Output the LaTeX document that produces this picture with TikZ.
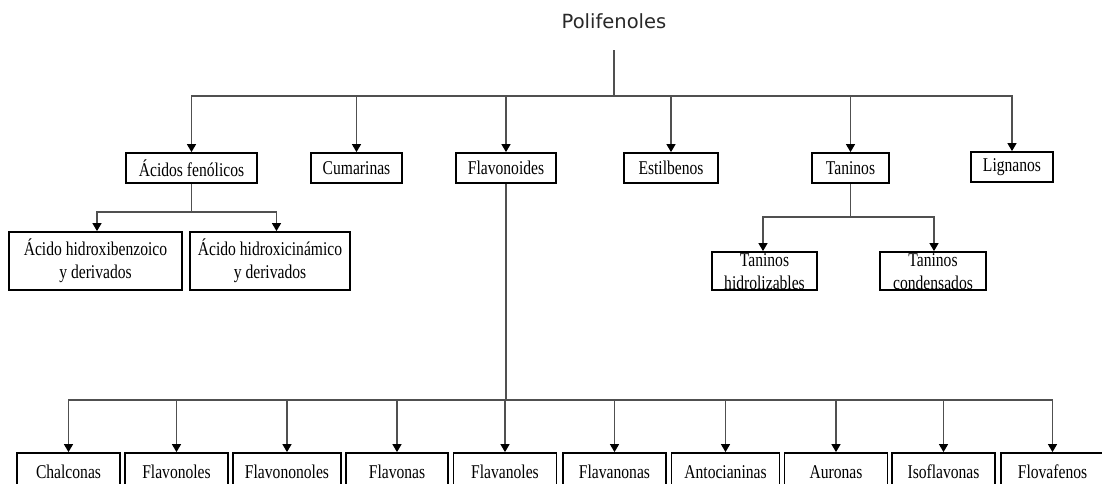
\documentclass[tikz,border=0pt]{standalone}
\usepackage{fontspec}
\setmainfont{Liberation Serif}[FakeStretch=0.8]
\newfontfamily\headfont{DejaVu Sans}
\usetikzlibrary{arrows.meta}
\definecolor{linkgray}{RGB}{80,80,80}
\definecolor{headgray}{RGB}{40,40,40}
\tikzset{
  box/.style={draw=black, line width=1.8pt, fill=white, inner sep=0pt,
    align=center, font=\fontsize{19.5}{23}\selectfont},
  row1/.style={box, minimum height=30pt},
  row2/.style={box, minimum height=58pt},
  row3/.style={box, minimum height=38pt},
  link/.style={draw=linkgray, line width=1.3pt},
  arrow/.style={link, -{Triangle[width=9pt,length=8pt,color=black]}},
  head/.style={font=\headfont\fontsize{19.5}{23}\selectfont, text=headgray,
    inner sep=0pt, minimum height=58pt},
}
\begin{document}
\begin{tikzpicture}[x=1pt, y=-1pt]
\useasboundingbox (0,0) rectangle (1102,483);
\clip (0,0) rectangle (1102,483);
\fill[white] (0,0) rectangle (1102,483);

% root
\node[head] (poli) at (614,21) {Polifenoles};

% first level
\node[row1, minimum width=131pt] (acidos)   at (191.5,168) {Ácidos fenólicos};
\node[row1, minimum width=91pt]  (cumar)    at (356.5,168) {Cumarinas};
\node[row1, minimum width=100pt] (flavon)   at (506,168)   {Flavonoides};
\node[row1, minimum width=94pt]  (estil)    at (671,168)   {Estilbenos};
\node[row1, minimum width=77pt]  (tanin)    at (850.5,168) {Taninos};
\node[row1, minimum width=82pt]  (lign)     at (1012,167)  {Lignanos};

% phenolic acids
\node[row2, minimum width=173pt] (benz) at (95.5,261) {Ácido hidroxibenzoico\\y derivados};
\node[row2, minimum width=160pt] (cin)  at (270,261)  {Ácido hidroxicinámico\\y derivados};

% tannins: the two-line labels run over the lower edge of their boxes
\node[row3, minimum width=105pt] (hidro) at (764.5,271)
  {\smash{\raisebox{-8pt}{\begin{tabular}{@{}c@{}}Taninos\\hidrolizables\end{tabular}}}};
\node[row3, minimum width=106pt] (conde) at (933,271)
  {\smash{\raisebox{-8pt}{\begin{tabular}{@{}c@{}}Taninos\\condensados\end{tabular}}}};

% flavonoid classes
\node[row3, minimum width=103pt] (chal)  at (68.5,472)   {Chalconas};
\node[row3, minimum width=103pt] (fnol)  at (176.5,472)  {Flavonoles};
\node[row3, minimum width=108pt] (fnon)  at (287,472)    {Flavononoles};
\node[row3, minimum width=102pt] (fona)  at (397,472)    {Flavonas};
\node[row3, minimum width=103pt] (fanol) at (505,472)    {Flavanoles};
\node[row3, minimum width=103pt] (fanon) at (614.5,472)  {Flavanonas};
\node[row3, minimum width=108pt] (anto)  at (725.5,472)  {Antocianinas};
\node[row3, minimum width=103pt] (auro)  at (836,472)    {Auronas};
\node[row3, minimum width=103pt] (isof)  at (943.5,472)  {Isoflavonas};
\node[row3, minimum width=103pt] (flova) at (1052.5,472) {Flovafenos};

% junction points of the buses
\coordinate (j1) at (614,96);
\coordinate (j2) at (191.5,212);
\coordinate (j3) at (506,400);
\coordinate (j4) at (850.5,217);

% stems
\draw[link] (poli.south) -- (j1);
\draw[link] (acidos.south) -- (j2);
\draw[link] (flavon.south) -- (j3);
\draw[link] (tanin.south) -- (j4);

% root branches
\foreach \n in {acidos,cumar,flavon,estil,tanin,lign}
  \draw[arrow] (j1) -| (\n.north);

% phenolic acid branches
\draw[arrow] (j2) -| ([xshift=1.5pt]benz.north);
\draw[arrow] (j2) -| ([xshift=6.5pt]cin.north);

% tannin branches
\draw[arrow] (j4) -| ([xshift=-1.5pt]hidro.north);
\draw[arrow] (j4) -| ([xshift=1pt]conde.north);

% flavonoid branches
\foreach \n in {chal,fnol,fnon,fona,fanol,fanon,anto,auro,isof,flova}
  \draw[arrow] (j3) -| (\n.north);
\end{tikzpicture}
\end{document}
